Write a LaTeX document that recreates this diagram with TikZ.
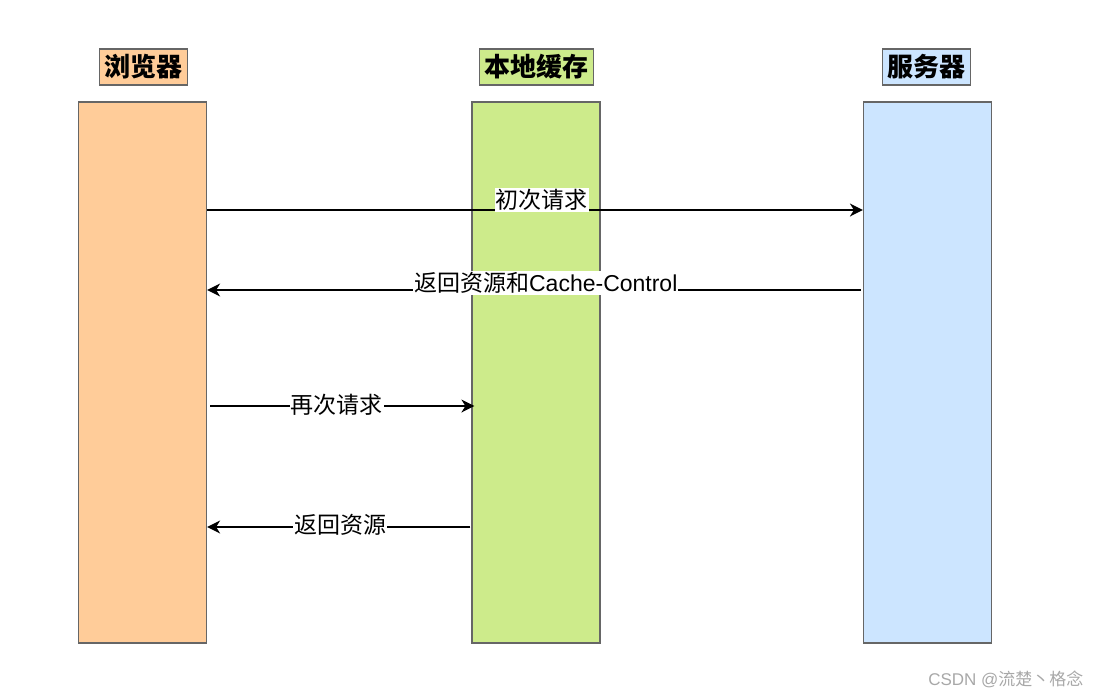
\documentclass[tikz,border=0pt]{standalone}
\usepackage{fontspec}
\setmainfont{Liberation Sans}
\newfontfamily\cjk{Noto Sans CJK SC}
\usetikzlibrary{arrows.meta}
\definecolor{brfill}{HTML}{FFCC99}
\definecolor{cafill}{HTML}{CDEB8B}
\definecolor{svfill}{HTML}{CCE5FF}
\definecolor{edgegray}{HTML}{666666}
\definecolor{markgray}{HTML}{A8A8A8}

\tikzset{
	bar/.style = {draw=edgegray, line width=1.2pt, minimum width=128pt, minimum height=541pt, inner sep=0pt},
	head/.style = {draw=edgegray, line width=1.2pt, inner xsep=5pt, inner ysep=0pt, minimum height=36pt,
		font=\cjk\bfseries\fontsize{26}{26}\selectfont},
	msg/.style = {-{Stealth[length=13pt,width=13pt,inset=4pt]}, line width=1.7pt},
	lbl/.style = {fill=white, inner sep=1pt, font=\cjk\fontsize{23}{23}\selectfont},
}

\begin{document}
\begin{tikzpicture}[x=1pt, y=-1pt]
		\useasboundingbox (0,0) rectangle (1102,698);
		% 列（ブラウザ・キャッシュ・サーバ）
		\node [bar, fill=brfill] (browser) at (142.5,372.5) {};
		\node [bar, fill=cafill] (cache) at (536,372.5) {};
		\node [bar, fill=svfill] (server) at (927.5,372.5) {};
		\node [head, fill=brfill] (browserhead) at (143.5,67) {浏览器};
		\node [head, fill=cafill] (cachehead) at (536.5,67) {本地缓存};
		\node [head, fill=svfill] (serverhead) at (926.5,67) {服务器};
		% メッセージの高さ
		\coordinate (m1) at (0,210);
		\coordinate (m2) at (0,290);
		\coordinate (m3) at (0,406);
		\coordinate (m4) at (0,527);
		% メッセージ
		\draw [msg] (browser.east |- m1)
		to node [lbl, pos=0.51, yshift=10pt] (req1) {初次请求} (server.west |- m1)
		;
		\draw [msg] ([xshift=-2pt]server.west |- m2)
		to node [lbl, pos=0.482, yshift=7pt] (resp1) {返回资源和{\rmfamily Cache-Control}} (browser.east |- m2)
		;
		\draw [msg] ([xshift=3pt]browser.east |- m3)
		to node [lbl, pos=0.48, yshift=1pt] (req2) {再次请求} ([xshift=3pt]cache.west |- m3)
		;
		\draw [msg] ([xshift=-1pt]cache.west |- m4)
		to node [lbl, pos=0.495, yshift=2pt] (resp2) {返回资源} (browser.east |- m4)
		;
		% 透かし
		\node [text=markgray, font=\fontsize{17}{17}\selectfont, anchor=east] (wmark) at (1087,679) {CSDN @{\cjk 流楚丶格念}};
	\end{tikzpicture}
\end{document}
